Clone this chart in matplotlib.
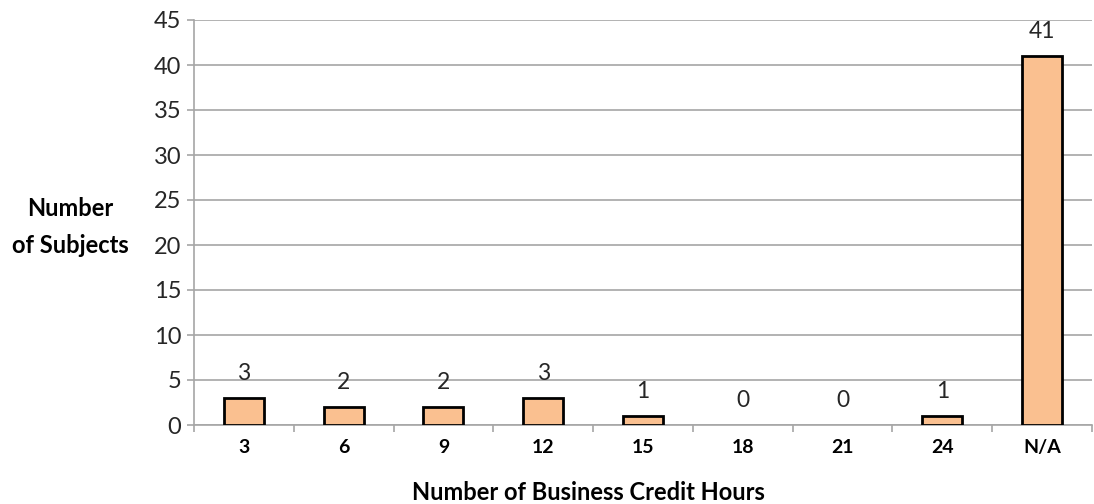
import matplotlib
matplotlib.use("Agg")
import matplotlib.pyplot as plt
import numpy as np

categories = ["3", "6", "9", "12", "15", "18", "21", "24", "N/A"]
values = [3, 2, 2, 3, 1, 0, 0, 1, 41]
yticks = [0, 5, 10, 15, 20, 25, 30, 35, 40, 45]

plt.rcParams['font.family'] = ['Lato', 'DejaVu Sans']

fig = plt.figure(figsize=(10.94, 5.04), dpi=100)
ax = fig.add_axes([194/1094, 79/504, (1092-194)/1094, (425-20)/504])

x = np.arange(len(categories))
lws = [2 if v > 0 else 0 for v in values]
ax.bar(x, values, width=0.4, color="#FAC090", edgecolor="black", linewidth=lws, zorder=3)
for xi, v in zip(x, values):
    ax.annotate(str(v), (xi, v), xytext=(0, 10), textcoords="offset points",
                ha="center", va="bottom", fontsize=16.5, color="#262626")

ax.set_xlim(-0.5, len(categories) - 0.5)
ax.set_ylim(0, 45)
ax.set_yticks(yticks)
ax.set_yticklabels([str(t) for t in yticks], fontsize=17, color="#262626")
ax.yaxis.grid(True, color="#A6A6A6", linewidth=1.2, zorder=0)
ax.set_axisbelow(True)

ax.set_xticks(x)
ax.set_xticklabels(categories, fontsize=14, fontweight="bold")
ax.set_xticks(np.arange(len(categories) + 1) - 0.5, minor=True)
ax.tick_params(axis="x", which="major", length=0, pad=10)
ax.tick_params(axis="x", which="minor", length=5, color="#A6A6A6", width=1.2)
ax.tick_params(axis="y", length=5, color="#A6A6A6", width=1.2, pad=4)

for s in ["top", "right"]:
    ax.spines[s].set_visible(False)
for s in ["left", "bottom"]:
    ax.spines[s].set_color("#A6A6A6")
    ax.spines[s].set_linewidth(1.2)

ax.set_xlabel("Number of Business Credit Hours", fontsize=17, fontweight="bold")
ax.xaxis.set_label_coords((588 - 194) / (1092 - 194), -(493 - 425) / (425 - 20))
ax.xaxis.label.set_va("center")
fig.text(70/1094, 1 - 227/504, "Number\nof Subjects", ha="center", va="center",
         fontsize=17, fontweight="bold", linespacing=1.75)

fig.savefig("out.png", dpi=100)
